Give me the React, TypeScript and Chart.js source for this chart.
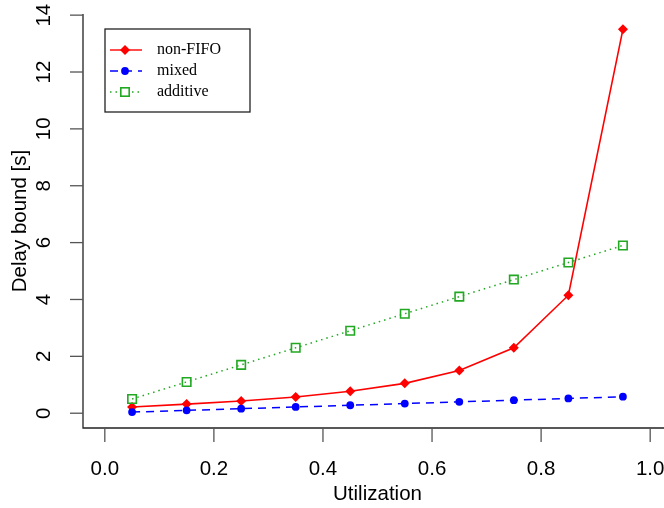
import React, { useEffect, useRef } from "react";
import { Chart, registerables } from "chart.js";

Chart.register(...registerables);

const utilization = [0.05, 0.15, 0.25, 0.35, 0.45, 0.55, 0.65, 0.75, 0.85, 0.95];
const nonFifo = [0.22, 0.32, 0.43, 0.57, 0.77, 1.05, 1.5, 2.3, 4.15, 13.5];
const mixed = [0.04, 0.1, 0.16, 0.22, 0.28, 0.34, 0.4, 0.46, 0.52, 0.58];
const additive = [0.5, 1.1, 1.7, 2.3, 2.9, 3.5, 4.1, 4.7, 5.3, 5.9];
const xTicks = [0, 0.2, 0.4, 0.6, 0.8, 1.0];
const yTicks = [0, 2, 4, 6, 8, 10, 12, 14];
const seriesNames = ["non-FIFO", "mixed", "additive"];

const RED = "#ff0000";
const BLUE = "#0000ff";
const GREEN = "#22a822";

const axesPlugin = {
  id: "rAxes",
  beforeDatasetsDraw(chart: any) {
    const { ctx, chartArea } = chart;
    const xs = chart.scales.x;
    const ys = chart.scales.y;
    ctx.save();
    ctx.strokeStyle = "#222";
    ctx.lineWidth = 1.3;
    ctx.beginPath();
    ctx.moveTo(chartArea.left, chartArea.top);
    ctx.lineTo(chartArea.left, chartArea.bottom);
    ctx.lineTo(chartArea.right, chartArea.bottom);
    ctx.stroke();
    ctx.strokeStyle = "#555";
    ctx.lineWidth = 1.3;
    ctx.font = "20.5px 'Liberation Sans', Arial, sans-serif";
    ctx.fillStyle = "#000";
    ctx.textAlign = "center";
    ctx.textBaseline = "middle";
    xTicks.forEach((t) => {
      const px = xs.getPixelForValue(t);
      ctx.beginPath();
      ctx.moveTo(px, chartArea.bottom);
      ctx.lineTo(px, chartArea.bottom + 14);
      ctx.stroke();
      ctx.fillText(t.toFixed(1), px, chartArea.bottom + 41);
    });
    yTicks.forEach((t) => {
      const py = ys.getPixelForValue(t);
      ctx.beginPath();
      ctx.moveTo(chartArea.left - 13, py);
      ctx.lineTo(chartArea.left, py);
      ctx.stroke();
      ctx.save();
      ctx.translate(44, py);
      ctx.rotate(-Math.PI / 2);
      ctx.fillText(String(t), 0, 0);
      ctx.restore();
    });
    ctx.fillText("Utilization", (chartArea.left + chartArea.right) / 2, chartArea.bottom + 66);
    ctx.save();
    ctx.translate(20, (chartArea.top + chartArea.bottom) / 2);
    ctx.rotate(-Math.PI / 2);
    ctx.fillText("Delay bound [s]", 0, 0);
    ctx.restore();
    ctx.restore();
  },
  afterDatasetsDraw(chart: any) {
    const { ctx } = chart;
    ctx.save();
    const bx = 105, by = 29, bw = 145, bh = 83;
    ctx.fillStyle = "#fff";
    ctx.fillRect(bx, by, bw, bh);
    ctx.strokeStyle = "#222";
    ctx.lineWidth = 1.3;
    ctx.strokeRect(bx, by, bw, bh);
    const rows = [50, 71, 92];
    const colors = [RED, BLUE, GREEN];
    const dashes = [[], [8, 6], [1.5, 4]];
    rows.forEach((ry, i) => {
      ctx.strokeStyle = colors[i];
      ctx.lineWidth = 1.4;
      ctx.setLineDash(dashes[i]);
      ctx.beginPath();
      ctx.moveTo(110, ry);
      ctx.lineTo(142, ry);
      ctx.stroke();
      ctx.setLineDash([]);
      const cx = 125;
      if (i === 0) {
        ctx.fillStyle = RED;
        ctx.beginPath();
        ctx.moveTo(cx - 5, ry);
        ctx.lineTo(cx, ry - 5);
        ctx.lineTo(cx + 5, ry);
        ctx.lineTo(cx, ry + 5);
        ctx.closePath();
        ctx.fill();
      } else if (i === 1) {
        ctx.fillStyle = BLUE;
        ctx.beginPath();
        ctx.arc(cx, ry, 3.9, 0, Math.PI * 2);
        ctx.fill();
      } else {
        ctx.fillStyle = "#fff";
        ctx.fillRect(cx - 4.2, ry - 4.2, 8.4, 8.4);
        ctx.strokeStyle = GREEN;
        ctx.lineWidth = 1.6;
        ctx.strokeRect(cx - 4.2, ry - 4.2, 8.4, 8.4);
      }
      ctx.fillStyle = "#000";
      ctx.font = "16px 'Liberation Serif', 'Times New Roman', serif";
      ctx.textAlign = "left";
      ctx.textBaseline = "middle";
      ctx.fillText(seriesNames[i], 157, ry);
    });
    ctx.restore();
  },
};

export default function App() {
  const ref = useRef<HTMLCanvasElement | null>(null);
  useEffect(() => {
    if (!ref.current) return;
    const chart = new Chart(ref.current, {
      type: "line",
      data: {
        datasets: [
          {
            label: seriesNames[0],
            data: utilization.map((x, i) => ({ x, y: nonFifo[i] })),
            borderColor: RED,
            backgroundColor: RED,
            borderWidth: 1.6,
            pointStyle: "rectRot",
            pointRadius: 5,
            pointBorderWidth: 0,
            pointBackgroundColor: RED,
            tension: 0,
            order: 3,
          },
          {
            label: seriesNames[1],
            data: utilization.map((x, i) => ({ x, y: mixed[i] })),
            borderColor: BLUE,
            backgroundColor: BLUE,
            borderWidth: 1.5,
            borderDash: [8, 6],
            pointStyle: "circle",
            pointRadius: 3.9,
            pointBorderWidth: 0,
            pointBackgroundColor: BLUE,
            tension: 0,
            order: 2,
          },
          {
            label: seriesNames[2],
            data: utilization.map((x, i) => ({ x, y: additive[i] })),
            borderColor: GREEN,
            backgroundColor: "rgba(0,0,0,0)",
            borderWidth: 1.5,
            borderDash: [1.5, 4],
            pointStyle: "rect",
            pointRadius: 6,
            pointBorderWidth: 1.6,
            pointBorderColor: GREEN,
            pointBackgroundColor: "rgba(0,0,0,0)",
            tension: 0,
            order: 1,
          },
        ],
      },
      options: {
        animation: false,
        responsive: false,
        devicePixelRatio: 1,
        layout: { padding: { left: 83, top: 14, right: 8, bottom: 80 } },
        plugins: { legend: { display: false }, tooltip: { enabled: false } },
        scales: {
          x: { type: "linear", min: -0.04, max: 1.04, display: false },
          y: { type: "linear", min: -0.52, max: 14.04, display: false },
        },
        events: [],
      },
      plugins: [axesPlugin],
    });
    return () => chart.destroy();
  }, []);
  return (
    <div
      style={{
        position: "fixed",
        left: 0,
        top: 0,
        width: 664,
        height: 508,
        overflow: "hidden",
        background: "#fff",
      }}
    >
      <canvas ref={ref} width={680} height={508} style={{ width: 680, height: 508, display: "block" }} />
    </div>
  );
}
